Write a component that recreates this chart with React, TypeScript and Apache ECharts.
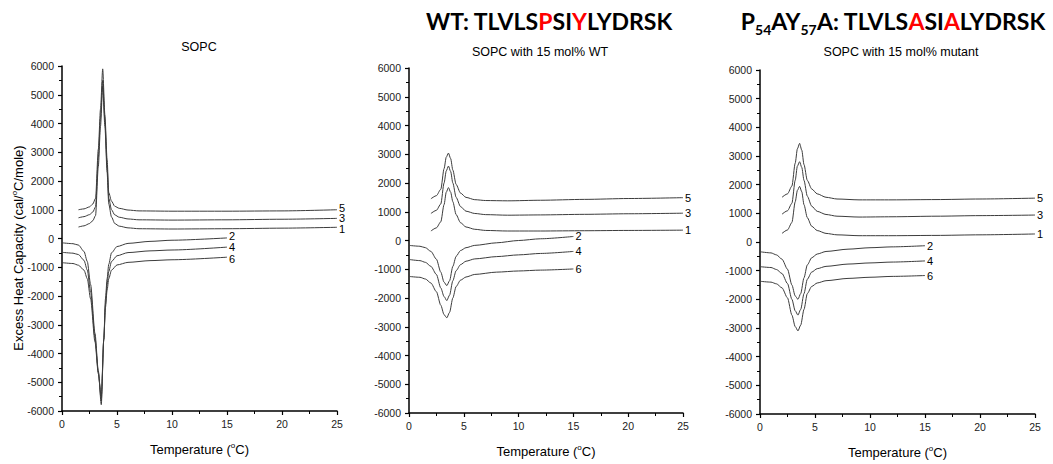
import React, { useEffect, useRef } from "react";
import * as echarts from "echarts";

// ---------- DATA ----------
// Panel 1: pure SOPC
const SOPC_HEAT_T = [1.5, 2.0, 2.5, 2.8, 3.05, 3.3, 3.5, 3.7, 3.9, 4.1, 4.25, 4.5, 4.8, 5.2, 6, 7, 10, 15, 20, 25];
const SOPC_SCAN1 = [400, 440, 520, 620, 800, 2500, 3900, 5300, 3900, 2300, 1200, 750, 520, 430, 370, 340, 330, 340, 360, 390];
const SOPC_SCAN3 = [720, 760, 830, 920, 1100, 2800, 4200, 5500, 4100, 2500, 1400, 1000, 820, 740, 680, 650, 640, 650, 670, 700];
const SOPC_SCAN5 = [1000, 1030, 1100, 1200, 1400, 3100, 4500, 5900, 4300, 2750, 1600, 1300, 1120, 1050, 990, 960, 950, 950, 960, 1000];
const SOPC_COOL_T = [0, 1, 1.5, 2.0, 2.3, 2.6, 3.0, 3.3, 3.57, 3.8, 3.95, 4.1, 4.25, 4.5, 5, 6, 8, 10, 15];
const SOPC_SCAN2 = [-150, -180, -230, -450, -800, -1600, -3300, -4600, -5780, -3500, -2100, -1400, -900, -500, -280, -170, -100, -60, 20];
const SOPC_SCAN4 = [-480, -510, -560, -760, -1100, -1850, -3450, -4650, -5650, -3500, -2300, -1600, -1150, -800, -600, -490, -430, -400, -300];
const SOPC_SCAN6 = [-840, -870, -930, -1100, -1400, -2100, -3600, -4700, -5500, -3500, -2400, -1800, -1400, -1100, -920, -830, -770, -740, -650];

// Panels 2 & 3 share temperature grids
const PEP_HEAT_T = [2.0, 2.5, 2.9, 3.2, 3.4, 3.6, 3.8, 4.0, 4.3, 4.7, 5.2, 6, 7, 9, 12, 16, 20, 25];
const PEP_COOL_T = [0, 1, 1.5, 2.0, 2.5, 2.9, 3.2, 3.45, 3.7, 4.0, 4.3, 4.7, 5.2, 6, 8, 10, 12, 15];

// Panel 2: SOPC with 15 mol% WT
const WT_SCAN1 = [330, 440, 650, 1250, 1680, 1840, 1680, 1350, 900, 620, 470, 390, 350, 330, 330, 340, 350, 360];
const WT_SCAN3 = [940, 1050, 1270, 2000, 2420, 2590, 2400, 2000, 1500, 1180, 1020, 940, 900, 880, 890, 910, 930, 950];
const WT_SCAN5 = [1450, 1560, 1780, 2500, 2900, 3040, 2850, 2450, 1950, 1650, 1500, 1420, 1390, 1380, 1400, 1430, 1460, 1490];
const WT_SCAN2 = [-170, -200, -250, -380, -650, -1100, -1450, -1570, -1400, -900, -550, -350, -250, -170, -80, 0, 60, 140];
const WT_SCAN4 = [-660, -700, -760, -900, -1180, -1650, -1950, -2090, -1900, -1400, -1050, -840, -720, -640, -560, -500, -450, -380];
const WT_SCAN6 = [-1250, -1280, -1340, -1480, -1780, -2250, -2580, -2690, -2500, -2000, -1600, -1380, -1270, -1180, -1100, -1060, -1030, -990];

// Panel 3: SOPC with 15 mol% mutant
const MUT_SCAN1 = [300, 420, 680, 1400, 1800, 1940, 1750, 1300, 850, 550, 400, 300, 250, 220, 220, 230, 250, 280];
const MUT_SCAN3 = [970, 1090, 1350, 2150, 2650, 2800, 2600, 2150, 1600, 1250, 1070, 960, 900, 870, 880, 900, 920, 940];
const MUT_SCAN5 = [1560, 1680, 1950, 2750, 3250, 3440, 3200, 2700, 2150, 1850, 1680, 1560, 1500, 1470, 1470, 1480, 1500, 1530];
const MUT_SCAN2 = [-340, -380, -450, -600, -950, -1500, -1880, -2000, -1800, -1250, -800, -550, -420, -330, -250, -200, -170, -130];
const MUT_SCAN4 = [-860, -890, -960, -1100, -1450, -2000, -2400, -2550, -2350, -1800, -1300, -1050, -930, -850, -770, -730, -700, -660];
const MUT_SCAN6 = [-1370, -1400, -1460, -1600, -1950, -2550, -2950, -3100, -2900, -2350, -1800, -1550, -1430, -1350, -1270, -1230, -1200, -1170];

const X_TICKS = { min: 0, max: 25, interval: 5 };
const Y_TICKS = { min: -6000, max: 6000, interval: 1000 };

const PANEL_TITLES = ["SOPC", "SOPC with 15 mol% WT", "SOPC with 15 mol% mutant"];

// ---------- CHART ----------
const FONT = "Liberation Sans, Arial, sans-serif";
const LINE_COLOR = "#3c3c3c";

const grids = [
  { left: 62, top: 66, width: 275, height: 345 },
  { left: 409, top: 68, width: 274, height: 345 },
  { left: 760, top: 70, width: 275, height: 344 },
];

// label nudges for the crowded first panel (scan number -> vertical offset in px)
const PANEL1_LABEL_NUDGE: Record<string, number> = { "5": -2, "3": 0, "1": 2, "2": -2, "4": 0, "6": 2 };

function zip(t: number[], v: number[]) {
  return t.map((x, i) => [x, v[i]]);
}

function makeSeries(gi: number, name: string, t: number[], v: number[]) {
  const dy = gi === 0 ? PANEL1_LABEL_NUDGE[name] : 0;
  return {
    type: "line",
    name: name + "_" + gi,
    xAxisIndex: gi,
    yAxisIndex: gi,
    data: zip(t, v),
    smooth: 0.25,
    smoothMonotone: "x",
    showSymbol: false,
    symbol: "none",
    lineStyle: { color: LINE_COLOR, width: 1 },
    endLabel: {
      show: true,
      formatter: name,
      color: "#000",
      fontSize: 11,
      lineHeight: 9,
      fontFamily: FONT,
      distance: 2,
      offset: [0, dy],
    },
    emphasis: { disabled: true },
    silent: true,
  };
}

const tempName = "{t|Temperature (}{s|o}{t|C)}";
const supRich = {
  t: { fontSize: 13, fontFamily: FONT, color: "#000", fill: "#000", lineHeight: 16 },
  s: { fontSize: 8, fontFamily: FONT, color: "#000", fill: "#000", verticalAlign: "top", lineHeight: 8 },
};

function xAxis(gi: number) {
  return {
    type: "value",
    gridIndex: gi,
    ...X_TICKS,
    axisLine: { show: true, onZero: false, lineStyle: { color: "#000", width: 1.5 } },
    axisTick: { show: true, inside: false, length: 4, lineStyle: { color: "#000", width: 1.2 } },
    minorTick: { show: true, splitNumber: 2, length: 3, lineStyle: { color: "#000", width: 1 } },
    splitLine: { show: false },
    axisLabel: { fontSize: 10.5, color: "#222", fontFamily: FONT, margin: 7, formatter: (v: number) => String(v) },
    name: tempName,
    nameLocation: "middle",
    nameGap: 30,
    nameTextStyle: { rich: supRich },
  };
}

function yAxis(gi: number) {
  return {
    type: "value",
    gridIndex: gi,
    ...Y_TICKS,
    axisLine: { show: true, onZero: false, lineStyle: { color: "#000", width: 1.5 } },
    axisTick: { show: true, inside: false, length: 4, lineStyle: { color: "#000", width: 1.2 } },
    minorTick: { show: true, splitNumber: 2, length: 3, lineStyle: { color: "#000", width: 1 } },
    splitLine: { show: false },
    axisLabel: { fontSize: 10.5, color: "#222", fontFamily: FONT, margin: 8, formatter: (v: number) => String(v) },
  };
}

export default function App() {
  const ref = useRef<HTMLDivElement>(null);
  useEffect(() => {
    if (!ref.current) return;
    const chart = echarts.init(ref.current, null, { renderer: "svg" });

    const series = [
      makeSeries(0, "1", SOPC_HEAT_T, SOPC_SCAN1),
      makeSeries(0, "3", SOPC_HEAT_T, SOPC_SCAN3),
      makeSeries(0, "5", SOPC_HEAT_T, SOPC_SCAN5),
      makeSeries(0, "2", SOPC_COOL_T, SOPC_SCAN2),
      makeSeries(0, "4", SOPC_COOL_T, SOPC_SCAN4),
      makeSeries(0, "6", SOPC_COOL_T, SOPC_SCAN6),
      makeSeries(1, "1", PEP_HEAT_T, WT_SCAN1),
      makeSeries(1, "3", PEP_HEAT_T, WT_SCAN3),
      makeSeries(1, "5", PEP_HEAT_T, WT_SCAN5),
      makeSeries(1, "2", PEP_COOL_T, WT_SCAN2),
      makeSeries(1, "4", PEP_COOL_T, WT_SCAN4),
      makeSeries(1, "6", PEP_COOL_T, WT_SCAN6),
      makeSeries(2, "1", PEP_HEAT_T, MUT_SCAN1),
      makeSeries(2, "3", PEP_HEAT_T, MUT_SCAN3),
      makeSeries(2, "5", PEP_HEAT_T, MUT_SCAN5),
      makeSeries(2, "2", PEP_COOL_T, MUT_SCAN2),
      makeSeries(2, "4", PEP_COOL_T, MUT_SCAN4),
      makeSeries(2, "6", PEP_COOL_T, MUT_SCAN6),
    ];

    const bigFont = "Lato, 'Open Sans', sans-serif";
    const bigSize = 23;
    const rich = {
      b: { fontSize: bigSize, fontWeight: "bold", fontFamily: bigFont, fill: "#000", color: "#000", lineHeight: 30 },
      r: { fontSize: bigSize, fontWeight: "bold", fontFamily: bigFont, fill: "#ff0000", color: "#ff0000", lineHeight: 30 },
      sub: { fontSize: 14, fontWeight: "bold", fontFamily: bigFont, fill: "#000", color: "#000", lineHeight: 14, verticalAlign: "bottom" },
    };

    const subCenters = [
      { x: 199, y: 47 },
      { x: 540, y: 52 },
      { x: 901, y: 52 },
    ];

    chart.setOption({
      animation: false,
      grid: grids,
      xAxis: [0, 1, 2].map(xAxis),
      yAxis: [0, 1, 2].map(yAxis),
      series,
      graphic: [
        ...PANEL_TITLES.map((t, i) => ({
          type: "text",
          x: subCenters[i].x,
          y: subCenters[i].y,
          silent: true,
          style: {
            text: t,
            fontSize: 12.5,
            fontFamily: FONT,
            fill: "#000",
            align: "center",
            verticalAlign: "middle",
          },
        })),
        {
          type: "text",
          x: 18,
          y: 248,
          rotation: Math.PI / 2,
          silent: true,
          style: {
            text: "{t|Excess Heat Capacity (cal/}{s|o}{t|C/mole)}",
            rich: supRich,
            align: "center",
            verticalAlign: "middle",
          },
        },
        {
          type: "text",
          x: 549,
          y: 21,
          silent: true,
          style: {
            text: "{b|WT: TLVLS}{r|P}{b|SI}{r|Y}{b|LYDRSK}",
            rich,
            align: "center",
            verticalAlign: "middle",
          },
        },
        {
          type: "text",
          x: 893,
          y: 21,
          silent: true,
          style: {
            text: "{b|P}{sub|54}{b|AY}{sub|57}{b|A: TLVLS}{r|A}{b|SI}{r|A}{b|LYDRSK}",
            rich,
            align: "center",
            verticalAlign: "middle",
          },
        },
      ],
    });
    return () => chart.dispose();
  }, []);

  return (
    <div
      ref={ref}
      style={{ position: "fixed", left: 0, top: 0, width: 1053, height: 464, background: "#fff" }}
    />
  );
}
